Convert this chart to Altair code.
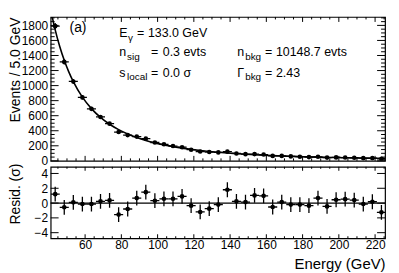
import altair as alt
import pandas as pd
import numpy as np

# ---- data ----
energy = [43.5, 48.5, 53.5, 58.5, 63.5, 68.5, 73.5, 78.5, 83.5, 88.5,
          93.5, 98.5, 103.5, 108.5, 113.5, 118.5, 123.5, 128.5, 133.5, 138.5,
          143.5, 148.5, 153.5, 158.5, 163.5, 168.5, 173.5, 178.5, 183.5, 188.5,
          193.5, 198.5, 203.5, 208.5, 213.5, 218.5, 223.5]
counts = [1790, 1315, 1055, 843, 691, 583, 494, 383, 342, 322,
          295, 244, 220, 197, 181, 148, 124, 117, 112, 122,
          98, 89, 90, 84, 66, 66, 59, 55, 50, 54,
          43, 46, 44, 41, 36, 36, 26]
resid = [1.2, -0.57, 0.1, -0.13, -0.13, 0.23, 0.36, -1.55, -0.8, 0.67,
         1.47, 0.32, 0.58, 0.58, 0.9, -0.35, -1.2, -0.75, -0.2, 1.8,
         0.23, 0.13, 1.03, 0.98, -0.53, 0.13, -0.2, -0.2, -0.35, 0.67,
         -0.45, 0.45, 0.53, 0.4, -0.13, 0.18, -1.25]
curve_e = [41.5, 43.5, 46.0, 48.5, 51.0, 53.5, 58.5, 63.5, 68.5, 73.5, 78.5, 83.5,
           88.5, 93.5, 98.5, 103.5, 108.5, 113.5, 118.5, 123.5, 128.5,
           133.5, 138.5, 143.5, 148.5, 153.5, 158.5, 163.5, 168.5, 173.5,
           178.5, 183.5, 188.5, 193.5, 198.5, 203.5, 208.5, 213.5, 218.5,
           223.5, 225.5]
curve_v = [1951, 1740, 1519, 1336, 1182, 1052, 847, 694, 577, 486, 415, 357,
           310, 271, 239, 212, 189, 169, 152.5, 137.9, 125.2,
           114.1, 104.4, 95.8, 88.1, 81.3, 75.2, 69.7, 64.8, 60.4,
           56.3, 52.7, 49.4, 46.3, 43.5, 40.9, 38.6, 36.5, 34.5,
           32.6, 31.9]
bin_half = 2.5

x_major = [60, 80, 100, 120, 140, 160, 180, 200, 220]
x_minor = [v for v in range(45, 226, 5) if v not in x_major]
y_major = [0, 200, 400, 600, 800, 1000, 1200, 1400, 1600, 1800]
y_minor = [v for v in range(50, 1912, 50) if v not in y_major]
r_major = [-4, -2, 0, 2, 4]

FONT = "Liberation Sans"
W, H1, H2 = 337, 145, 72

df = pd.DataFrame({"e": energy, "n": counts, "r": resid})
df["elo"] = df["e"] - bin_half
df["ehi"] = df["e"] + bin_half
df["nlo"] = df["n"] - np.sqrt(df["n"])
df["nhi"] = df["n"] + np.sqrt(df["n"])
df["rlo"] = df["r"] - 1
df["rhi"] = df["r"] + 1
cdf = pd.DataFrame({"e": curve_e, "v": curve_v})

xs = alt.Scale(domain=[41, 225.5], nice=False, zero=False)
ys = alt.Scale(domain=[0, 1912], nice=False, zero=False)
rs = alt.Scale(domain=[-4.75, 4.9], nice=False, zero=False)

x_top_axis = None
x_bot_axis = alt.Axis(values=x_major, ticks=False, domain=False, grid=False,
                      labelPadding=1, labelFontSize=12, labelFlush=False,
                      title="Energy (GeV)", titleAnchor="end", titleFontSize=15,
                      titlePadding=7)
y_top_axis = alt.Axis(values=y_major, ticks=False, domain=False, grid=False,
                      format="d",
                      labelPadding=3, labelFontSize=12, labelOverlap=False,
                      title="Events / 5.0 GeV", titleFontSize=14,
                      titleX=-28, titleY=53, titleAngle=-90,
                      titleAlign="center", titleBaseline="bottom")
r_axis = alt.Axis(values=r_major, ticks=False, domain=False, grid=False,
                  format="d",
                  labelPadding=3, labelFontSize=12, labelOverlap=False,
                  title="Resid. (σ)", titleFontSize=14,
                  titleX=-28, titleY=27, titleAngle=-90,
                  titleAlign="center", titleBaseline="bottom")


def xtick_layer(vals, length, height, xaxis):
    d = pd.DataFrame({"v": vals})
    base = alt.Chart(d).mark_rule(color="black", strokeWidth=1)
    top = base.encode(x=alt.X("v:Q", scale=xs, axis=xaxis),
                      y=alt.value(0), y2=alt.value(length))
    bot = base.encode(x=alt.X("v:Q", scale=xs, axis=xaxis),
                      y=alt.value(height - length), y2=alt.value(height))
    return [top, bot]


def ytick_layer(vals, yscale, yaxis, length):
    d = pd.DataFrame({"v": vals})
    base = alt.Chart(d).mark_rule(color="black", strokeWidth=1)
    left = base.encode(y=alt.Y("v:Q", scale=yscale, axis=yaxis),
                       x=alt.value(0), x2=alt.value(length))
    right = base.encode(y=alt.Y("v:Q", scale=yscale, axis=yaxis),
                        x=alt.value(W - length), x2=alt.value(W))
    return [left, right]


def label(text, x, y, size=12.5):
    return alt.Chart(alt.InlineData(values=[{}])).mark_text(
        align="left", baseline="alphabetic", font=FONT, fontSize=size, color="black"
    ).encode(x=alt.value(x), y=alt.value(y), text=alt.value(text))


# ---- top panel ----
top_layers = []
top_layers += xtick_layer(x_major, 5, H1, x_top_axis)
top_layers += xtick_layer(x_minor, 2.5, H1, x_top_axis)
top_layers += ytick_layer(y_major, ys, y_top_axis, 8)
top_layers += ytick_layer(y_minor, ys, y_top_axis, 4)

curve = alt.Chart(cdf).mark_line(color="black", strokeWidth=1.6, interpolate="monotone", clip=True).encode(
    x=alt.X("e:Q", scale=xs, axis=x_top_axis), y=alt.Y("v:Q", scale=ys, axis=y_top_axis))
yerr = alt.Chart(df).mark_rule(color="black", strokeWidth=1.3, clip=True).encode(
    x=alt.X("e:Q", scale=xs, axis=x_top_axis), y=alt.Y("nlo:Q", scale=ys, axis=y_top_axis), y2="nhi:Q")
xerr = alt.Chart(df).mark_rule(color="black", strokeWidth=1.3, clip=True).encode(
    x=alt.X("elo:Q", scale=xs, axis=x_top_axis), x2="ehi:Q", y=alt.Y("n:Q", scale=ys, axis=y_top_axis))
pts = alt.Chart(df).mark_point(filled=True, color="black", size=22, opacity=1, clip=True).encode(
    x=alt.X("e:Q", scale=xs, axis=x_top_axis), y=alt.Y("n:Q", scale=ys, axis=y_top_axis))

SUB = 10
texts = [
    label("(a)", 19, 15, 14),
    label("E", 69, 20.5), label("γ", 78, 24, SUB), label("=", 87, 20.5), label("133.0 GeV", 98, 20.5),
    label("n", 69, 39.5), label("sig", 77, 43, SUB), label("=", 101, 39.5), label("0.3 evts", 113, 39.5),
    label("s", 69, 60.5), label("local", 77, 64, SUB), label("=", 101, 60.5), label("0.0 σ", 113, 60.5),
    label("n", 188, 39.5), label("bkg", 196, 43, SUB), label("=", 216, 39.5), label("10148.7 evts", 227, 39.5),
    label("Γ", 188, 60.5), label("bkg", 196, 64, SUB), label("=", 216, 60.5), label("2.43", 227, 60.5),
]

top = alt.layer(*top_layers, curve, yerr, xerr, pts, *texts).properties(width=W, height=H1)

# ---- bottom panel ----
bot_layers = []
bot_layers += xtick_layer(x_major, 4, H2, x_bot_axis)
bot_layers += xtick_layer(x_minor, 2, H2, x_bot_axis)
bot_layers += ytick_layer(r_major, rs, r_axis, 8)

zero = alt.Chart(pd.DataFrame({"z": [0]})).mark_rule(color="black", strokeWidth=1.2).encode(
    y=alt.Y("z:Q", scale=rs, axis=r_axis))
ryerr = alt.Chart(df).mark_rule(color="black", strokeWidth=1.3, clip=True).encode(
    x=alt.X("e:Q", scale=xs, axis=x_bot_axis), y=alt.Y("rlo:Q", scale=rs, axis=r_axis), y2="rhi:Q")
rxerr = alt.Chart(df).mark_rule(color="black", strokeWidth=1.3, clip=True).encode(
    x=alt.X("elo:Q", scale=xs, axis=x_bot_axis), x2="ehi:Q", y=alt.Y("r:Q", scale=rs, axis=r_axis))
rpts = alt.Chart(df).mark_point(filled=True, color="black", size=22, opacity=1, clip=True).encode(
    x=alt.X("e:Q", scale=xs, axis=x_bot_axis), y=alt.Y("r:Q", scale=rs, axis=r_axis))

bottom = alt.layer(*bot_layers, zero, ryerr, rxerr, rpts).properties(width=W, height=H2)

chart = alt.vconcat(top, bottom, spacing=6, bounds="flush").properties(
    padding={"left": 0, "top": 6, "right": 4, "bottom": 0},
    background="white",
).configure_view(stroke="black", strokeWidth=1.2).configure_axis(
    labelFont=FONT, titleFont=FONT, labelColor="black", titleColor="black",
    titleFontWeight="normal", grid=False,
)

chart.save("out.html", embed_options={"renderer": "svg", "actions": False})
